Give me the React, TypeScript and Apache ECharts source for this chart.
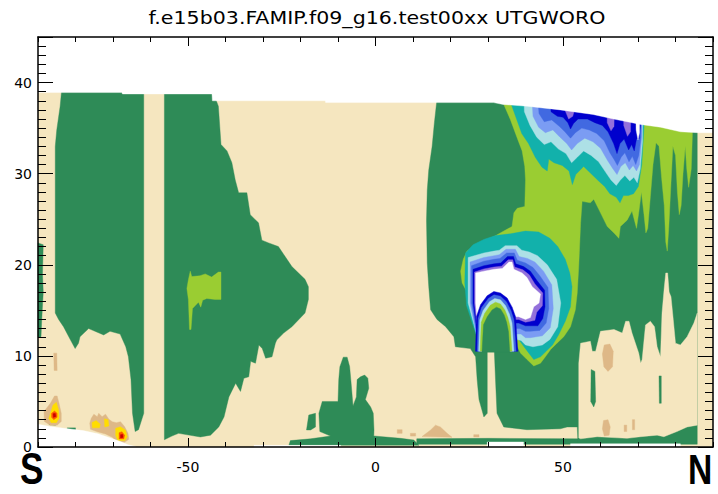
import { useEffect, useRef } from 'react';
import * as echarts from 'echarts';

type Pt = [number, number];

const TITLE = 'f.e15b03.FAMIP.f09_g16.test00xx UTGWORO';
const X_LABELS = [-50, 0, 50];
const Y_LABELS = [0, 10, 20, 30, 40];

const COLOR: Record<string, string> = {
  wheat: '#F5E6BF', tan: '#DEB887', green: '#2E8B57', yg: '#9ACD32', teal: '#12B1AB',
  lc: '#ADE0E6', cf: '#7B9CF3', rb: '#4169E1', nv: '#0000CD', pu: '#9370DB', wh: '#FFFFFF',
  yellow: '#FFDD00', orange: '#FF5A00', red: '#C80000', sky: '#FFFFFF',
};

// data top (model top) boundary, lat / km
const TOP: Pt[] = [[-90, 38.9], [-67.6, 38.9], [-67.5, 38.75], [-43.6, 38.75], [-43.5, 38.0], [-13.4, 38.0], [-13.3, 37.8], [31.5, 37.8], [34, 37.6], [40.5, 37.4], [49.3, 37.0], [58, 36.5], [63.5, 36.0], [70.7, 35.4], [76, 35.1], [81.3, 34.6], [85.9, 34.5], [90, 34.5]];

const BASE: Pt[] = [[-90, 0], [90, 0], [90, 40], [-90, 40]];

const GREEN_SH1: Pt[] = [[-83.5, 40], [-84.1, 37.4], [-85, 34.8], [-85.4, 33], [-85.4, 14.7], [-84.5, 14], [-83.2, 13.2], [-81.4, 11.8], [-80.1, 10.8], [-79.2, 11.4], [-78.8, 12.1], [-76.5, 13.0], [-72.5, 12.3], [-70.8, 12.7], [-68.1, 12.4], [-66.6, 11.0], [-65.9, 9.9], [-65.2, 7.4], [-64.8, 3.7], [-64.1, 1.7], [-63.2, 1.9], [-61.8, 3.7], [-61.8, 40]];
const GREEN_EDGE: Pt[] = [[-90, 22.4], [-88.6, 22.2], [-88.8, 19], [-88.6, 17], [-89, 14], [-89.2, 12.1], [-90, 12.0]];
const GREEN_DOTS_A: Pt[] = [[-87, 2.75], [-85.3, 2.65], [-85.3, 2.4], [-87, 2.45]];
const GREEN_DOTS_B: Pt[] = [[-82.2, 2.1], [-80, 2.1], [-80, 1.85], [-82.2, 1.85]];
const GREEN_SH2: Pt[] = [[-56.3, 40], [-56.3, 0.8], [-54.3, 1.2], [-52.5, 1.5], [-46.7, 1.1], [-44, 1.3], [-41.8, 2.2], [-40.4, 3.3], [-39.1, 5.5], [-37.3, 7.0], [-36, 6.1], [-35.1, 7.55], [-33.8, 7.7], [-33.3, 9.4], [-32, 9.2], [-31.1, 11.2], [-30.2, 10.8], [-29.3, 9.75], [-27.6, 9.9], [-26.7, 11.4], [-26.3, 11.76], [-24.5, 12.5], [-22.3, 13.2], [-18.8, 14.7], [-17.9, 16.2], [-17.9, 17.6], [-18.8, 18.4], [-22.3, 19.8], [-24.1, 20.9], [-25.9, 22.0], [-28.5, 22.4], [-30.3, 22.7], [-31.2, 24.6], [-33.4, 25.5], [-34.3, 27.9], [-36.5, 27.9], [-37.4, 29.3], [-38.3, 31.2], [-39.6, 32.5], [-41.2, 33.2], [-41.9, 37.4], [-43.2, 38.8], [-43.2, 40]];
const YG_SH: Pt[] = [[-49.4, 19.3], [-49.0, 18.7], [-46.8, 18.8], [-45.4, 19.0], [-43.7, 18.65], [-41.9, 19.2], [-41.2, 19.2], [-41.2, 16.2], [-42.8, 16.2], [-45.0, 16.3], [-46.1, 16.1], [-46.6, 15.35], [-47.2, 15.9], [-48.8, 15.2], [-49.2, 12.9], [-49.6, 12.9], [-49.9, 16.2], [-50.3, 17.4], [-49.9, 18.35]];
const GREEN_MID: Pt[] = [[-8.6, 9.86], [-7.56, 9.86], [-6.9, 8.83], [-6.5, 7.0], [-6.0, 4.5], [-5.1, 5.5], [-4.9, 7.4], [-4.0, 7.7], [-2.9, 7.9], [-2.05, 7.55], [-1.8, 6.45], [-2.7, 5.2], [-1.3, 4.4], [-0.6, 3.7], [-0.4, 1.87], [-0.45, 1.21], [6.7, 0.95], [10.2, 0.77], [11.6, 0.2], [-23.1, 0.2], [-22.7, 0.7], [-17.3, 0.9], [-12.0, 1.2], [-14.85, 1.7], [-15.1, 3.7], [-14.2, 5.0], [-10.0, 5.0], [-9.8, 7.4], [-9.5, 8.8]];
const GREEN_MID_B: Pt[] = [[-17.8, 3.5], [-16.0, 3.7], [-16.0, 2.2], [-17.3, 1.87], [-18.4, 1.87]];
const GREEN_BAND_NH: Pt[] = [[11, 0.3], [11, 0.9], [30, 0.95], [54, 0.9], [54, 0.3]];
const GREEN_NH: Pt[] = [[16.3, 40], [16.3, 37.8], [15.7, 35.6], [15.1, 33.0], [14.2, 30.4], [13.8, 28.2], [13.6, 24.9], [13.8, 20.2], [14.2, 17.6], [14.7, 15.06], [16.4, 14.0], [18.7, 13.2], [20.9, 12.1], [21.3, 11.0], [25.3, 10.8], [26.7, 9.9], [27.1, 7.4], [27.6, 5.2], [28.9, 3.3], [29.8, 3.7], [29.8, 11.0], [30.7, 11.8], [31.6, 11.4], [32.0, 7.4], [32.4, 3.7], [34.2, 2.2], [40.4, 1.9], [49.3, 2.0], [51.1, 2.2], [53.8, 2.2], [54, 0.3], [85.8, 0.3], [85.8, 40]];
const WHEAT_NH: Pt[] = [[54.2, 1.0], [54.2, 9.2], [54.7, 11.4], [57.3, 11.6], [57.8, 10.5], [58.7, 10.5], [60.0, 12.7], [63.6, 12.9], [65.8, 12.5], [66.7, 13.8], [67.6, 13.8], [68.4, 12.5], [70.2, 10.3], [70.7, 9.2], [71.1, 9.6], [72.0, 13.4], [73.3, 13.8], [74.4, 13.2], [75.1, 11.0], [76.0, 9.9], [76.4, 14.7], [77.0, 17.5], [77.4, 19.1], [77.9, 19.1], [78.3, 17.0], [78.8, 16.5], [79.4, 14.0], [80.0, 11.4], [81.3, 11.2], [83.1, 12.1], [84.9, 13.6], [85.8, 14.7], [85.8, 2.4], [83.1, 2.2], [80.4, 1.7], [76.9, 1.13], [75.1, 1.3], [70.7, 1.13], [67.1, 0.95], [59.1, 1.13], [54.7, 0.9]];
const GREEN_NH_S1: Pt[] = [[57.5, 8.5], [58.5, 8.3], [58.7, 5], [58.2, 4.4], [57.4, 5]];
const GREEN_NH_S2: Pt[] = [[75.6, 7.8], [76.2, 7.8], [76.2, 4.8], [75.7, 4.8]];

const TAN_NH1: Pt[] = [[61, 11.2], [62.5, 11.3], [63.4, 10.5], [63.2, 8.8], [62, 8.3], [60.9, 8.8], [60.5, 10.2]];
const TAN_NH2: Pt[] = [[60.8, 2.9], [62, 3.0], [62.6, 2.2], [62.3, 1.3], [61, 1.2], [60.5, 2.0]];
const TAN_NH3: Pt[] = [[66.3, 2.4], [67, 2.4], [67, 1.7], [66.3, 1.7]];
const TAN_NH4: Pt[] = [[68.5, 3.0], [69.1, 3.0], [69.1, 1.9], [68.5, 1.9]];
const TAN_EQ1: Pt[] = [[12.4, 1.14], [14.7, 1.87], [16.0, 2.4], [17.3, 2.2], [19.1, 1.5], [20.4, 1.07]];
const TAN_EQ2: Pt[] = [[5.8, 1.9], [7.1, 1.9], [7.1, 1.5], [5.8, 1.5]];
const TAN_EQ3: Pt[] = [[9.3, 1.5], [10.7, 1.5], [10.7, 1.2], [9.3, 1.2]];
const TAN_EQ4: Pt[] = [[26.2, 1.35], [27.6, 1.35], [27.6, 1.1], [26.2, 1.1]];
const TAN_SP_STREAK: Pt[] = [[-85.8, 10.3], [-85, 10.3], [-84.9, 8.4], [-85.7, 8.4]];
const TAN_SP1: Pt[] = [[-88.4, 3.9], [-86.7, 4.8], [-85.6, 5.6], [-84.9, 5.6], [-84.4, 4.8], [-83.8, 3.7], [-83.8, 2.8], [-84.9, 2.4], [-86.7, 2.4], [-88.3, 2.8]];
const YEL_SP1: Pt[] = [[-86.7, 3.7], [-86, 4.6], [-85.1, 4.9], [-84.5, 4.06], [-84.4, 3.15], [-85.1, 2.67], [-86.5, 2.67], [-87.1, 3.15]];
const ORG_SP1: Pt[] = [[-86.4, 3.7], [-85.6, 3.95], [-84.9, 3.7], [-84.9, 3.26], [-85.8, 3.0], [-86.4, 3.26]];
const RED_SP1: Pt[] = [[-86.0, 3.65], [-85.4, 3.7], [-85.2, 3.35], [-85.9, 3.25]];
const TAN_SP2: Pt[] = [[-76.2, 2.6], [-75.8, 3.15], [-75.1, 3.6], [-74.2, 3.33], [-73.8, 3.7], [-72.9, 3.33], [-72.0, 3.6], [-71.1, 3.04], [-70.2, 2.78], [-69.1, 2.67], [-68.0, 2.78], [-66.9, 2.23], [-66.0, 1.5], [-65.8, 0.84], [-66.9, 0.51], [-68.7, 0.51], [-70.2, 1.06], [-72.0, 1.43], [-74.2, 1.68], [-76, 1.94]];
const YEL_SP2A: Pt[] = [[-75.6, 2.7], [-74.5, 2.9], [-73.4, 2.5], [-73.6, 2.1], [-75.5, 2.1]];
const YEL_SP2B: Pt[] = [[-72.3, 3.1], [-71.3, 3.0], [-71.1, 2.3], [-72.2, 2.2]];
const YEL_SP2C: Pt[] = [[-69.3, 2.05], [-68.0, 2.23], [-66.7, 1.87], [-66.2, 1.13], [-66.8, 0.7], [-68.7, 0.7], [-69.3, 1.3]];
const ORG_SP2: Pt[] = [[-68.4, 1.57], [-67.6, 1.68], [-66.9, 1.3], [-67.1, 0.88], [-68.4, 0.88]];
const RED_SP2: Pt[] = [[-68.0, 1.35], [-67.4, 1.4], [-67.3, 1.05], [-68.0, 1.0]];

// NH blob + upper structure
const YG_NH: Pt[] = [[34.2, 40], [84.5, 40], [84.5, 34.2], [84.2, 30.5], [83.5, 28.5], [83.0, 30.5], [82.6, 33.0], [82.0, 30.0], [81.5, 26.5], [81.0, 25.5], [80.5, 28.0], [80.0, 32.0], [79.3, 33.0], [78.8, 29.0], [78.2, 24.0], [77.8, 21.5], [77.4, 22.5], [77.0, 26.5], [76.3, 29.5], [75.6, 33.0], [74.8, 33.4], [74.0, 31.0], [73.3, 27.5], [72.6, 24.0], [72.1, 23.5], [71.6, 25.5], [70.9, 28.0], [70.2, 25.7], [69.6, 24.0], [68.4, 25.9], [67.1, 24.9], [65.3, 24.2], [64.9, 22.9], [63.6, 23.5], [61.8, 24.2], [60.0, 25.7], [58.2, 27.2], [57.3, 26.8], [55.1, 26.96], [54.7, 24.6], [54.2, 19.8], [53.8, 16.9], [53.3, 15.06], [52.0, 13.2], [50.2, 12.1], [48.4, 11.4], [46.7, 10.7], [45.3, 9.9], [44.0, 9.2], [42.2, 8.9], [40.4, 9.6], [38.7, 10.3], [37.3, 11.4], [36.8, 11.8], [27.6, 11.0], [27.3, 11.8], [26.7, 14.7], [25.8, 16.5], [24.3, 17.1], [23.1, 18.0], [22.7, 19.3], [23.4, 20.6], [24.4, 21.5], [26.2, 22.0], [28.9, 22.6], [31.6, 23.1], [34.2, 23.7], [36.4, 24.2], [36.9, 25.7], [37.8, 26.2], [39.8, 26.4], [40.0, 29.3], [39.8, 30.8], [39.1, 32.5], [37.8, 33.9], [36.0, 35.9], [34.2, 37.6]];
const TEAL_UP: Pt[] = [[36.3, 40], [36.3, 37.5], [37.7, 35.9], [39.0, 34.4], [40.8, 33.3], [42.6, 31.8], [44.4, 30.7], [45.8, 30.3], [46.2, 31.6], [47.6, 31.2], [49.8, 30.9], [51.6, 30.3], [52.5, 28.8], [53.4, 29.9], [55.5, 30.8], [57.5, 30.0], [59.5, 29.2], [61.1, 28.6], [62.5, 27.8], [64.2, 27.4], [65.2, 26.8], [66.1, 27.6], [67.4, 27.6], [68.8, 27.8], [70.1, 28.6], [71.0, 31.0], [71.6, 35.1], [71.6, 40]];
const LC_UP: Pt[] = [[39.5, 40], [39.7, 36.8], [41.2, 35.3], [43, 34.0], [45, 33.2], [46.8, 33.5], [48.8, 32.7], [50.8, 32.2], [52.3, 31.2], [53.8, 31.8], [55.5, 32.5], [57.5, 32.0], [59.5, 31.3], [61.3, 30.2], [62.8, 29.3], [64.2, 28.7], [65.3, 29.3], [66.5, 29.8], [67.8, 29.2], [68.9, 29.6], [69.8, 29.0], [70.6, 30.5], [71.2, 33.5], [71.4, 40]];
const CF_UP: Pt[] = [[41.5, 40], [42, 36.3], [43.5, 35.1], [45.3, 34.5], [47.3, 34.8], [49.2, 34.0], [51, 33.3], [52.3, 32.6], [53.8, 33.3], [55.8, 33.9], [58, 33.5], [60, 32.8], [61.8, 31.5], [63.2, 30.6], [64.4, 29.9], [65.4, 30.8], [66.6, 31.2], [67.7, 30.4], [68.7, 30.9], [69.6, 30.3], [70.4, 31.0], [71, 34], [71.2, 40]];
const RB_UP: Pt[] = [[43, 40], [43.6, 36.6], [45, 35.7], [47, 35.9], [49, 35.2], [50.5, 34.6], [52, 33.9], [53.3, 34.5], [55, 35.0], [57, 34.8], [59, 34.4], [61, 33.6], [62.5, 32.3], [63.7, 31.5], [64.5, 30.9], [65.5, 31.8], [66.5, 32.3], [67.6, 31.3], [68.5, 31.9], [69.4, 31.0], [70.2, 32.0], [70.8, 34], [71, 40]];
const NV_UP: Pt[] = [[46.5, 40], [46.8, 36.8], [48.5, 36.3], [50, 36.2], [51.3, 35.6], [52, 34.9], [52.8, 35.5], [54, 36.0], [56.5, 36.0], [58.5, 35.6], [60.5, 35.3], [62, 34.6], [63.5, 33.3], [64.4, 32.2], [65.2, 33.3], [66.3, 33.8], [67.5, 32.6], [68.3, 33.2], [69.0, 32.5], [69.6, 33.8], [70.3, 33.8], [70.7, 35.5], [70.8, 40]];
const PU_UP1: Pt[] = [[50.5, 40], [50.6, 36.9], [51.5, 36.0], [52.6, 36.3], [53.2, 37.2], [53.2, 40]];
const PU_UP2: Pt[] = [[61.6, 40], [61.8, 35.6], [62.8, 34.7], [63.6, 35.2], [63.8, 40]];
const PU_UP3: Pt[] = [[66.0, 40], [66.2, 35.3], [67.2, 34.1], [68.0, 34.6], [68.2, 40]];
const WH_UP: Pt[] = [[69.3, 40], [69.5, 34.8], [70.0, 33.7], [70.4, 34.5], [70.4, 40]];

const TEAL_BLOB: Pt[] = [[23.8, 18], [24.0, 21.3], [26, 22.2], [29, 22.8], [32, 23.2], [36, 23.4], [40, 23.7], [43.5, 23.6], [46.5, 22.9], [48.6, 22.0], [50.6, 20.6], [51.8, 19.1], [52.4, 17.6], [52.0, 15.4], [50.6, 13.8], [48.8, 12.3], [47.2, 11.2], [45.5, 10.5], [44, 9.9], [42.2, 9.6], [40.9, 10.3], [39.6, 11.0], [38.2, 11.8], [37.3, 12.5], [27.5, 11.5], [24.3, 15.5]];
const LC_BLOB: Pt[] = [[24.7, 20.8], [28.9, 21.3], [31.6, 21.5], [33, 21.6], [34.6, 22.1], [37.7, 22.1], [39, 21.6], [41, 21.4], [43.2, 21.0], [45.8, 20.0], [48.3, 18.4], [49.4, 15.8], [48.6, 13.2], [46.5, 11.8], [44.5, 11.2], [42, 11.0], [40, 11.2], [38.8, 11.7], [37.7, 11.8], [27.2, 12], [24.7, 15.8]];
const CF_BLOB: Pt[] = [[25.2, 20.3], [28.9, 20.8], [31.6, 21.0], [33, 21.1], [34.8, 21.7], [37.3, 21.7], [38.3, 20.9], [40.5, 20.7], [42.5, 20.3], [44.8, 19.3], [47.0, 17.8], [47.4, 15.2], [46.6, 13.1], [44.5, 12.2], [41.3, 12.0], [40, 12.0], [38.8, 12.4], [37.5, 12.4], [27, 12.2], [25.2, 15.8]];
const RB_BLOB: Pt[] = [[25.6, 19.9], [28.9, 20.4], [31.6, 20.6], [33.2, 20.7], [35, 21.3], [37, 21.3], [37.8, 20.5], [40, 20.2], [42, 19.7], [43.8, 18.8], [46.0, 17.5], [46.2, 15.2], [45.5, 13.6], [43.8, 12.8], [41.3, 12.7], [40, 12.7], [38.5, 13.0], [37.2, 13.0], [27, 12.5], [25.6, 15.8]];
const NV_BLOB: Pt[] = [[26.0, 19.5], [28.9, 19.9], [31.6, 20.1], [33.4, 20.2], [35.2, 20.9], [36.8, 20.9], [37.4, 20.1], [39.5, 19.8], [41.3, 19.3], [43, 18.3], [45.1, 17.2], [45.2, 15.4], [44.6, 14.1], [43.3, 13.3], [41.3, 13.3], [40.0, 13.3], [38.2, 13.6], [36.9, 13.6], [27, 13], [26, 15.8]];
const PU_BLOB: Pt[] = [[26.4, 19.2], [28.9, 19.55], [31.6, 19.75], [33.6, 19.85], [35.4, 20.55], [36.6, 20.55], [37.1, 19.75], [39.3, 19.45], [41, 18.9], [42.5, 17.9], [44.6, 16.9], [44.5, 15.5], [43, 14.8], [42.5, 13.9], [41.3, 13.8], [40.0, 13.7], [38.2, 14.0], [36.9, 14.0], [27, 13.5], [26.4, 15.8]];
const WH_BLOB: Pt[] = [[26.7, 19.1], [28.9, 19.3], [31.6, 19.5], [33.8, 19.6], [35.6, 20.3], [36.4, 20.3], [36.9, 19.5], [39.1, 19.1], [40.4, 18.6], [41.8, 17.6], [44.0, 16.8], [43.6, 15.8], [42.2, 15.4], [41.3, 14.2], [40.0, 14.0], [38.2, 14.3], [36.9, 14.3], [36.4, 15.0], [33, 14], [28, 13.96], [27.1, 13.96], [26.7, 15.8]];

// arch under the blob (nested "mountains")
const ARCH_NV: Pt[] = [[26.66, 10.5], [26.93, 14.33], [28.0, 15.61], [29.77, 16.6], [31.55, 17.07], [33.33, 16.9], [35.11, 16.34], [36.44, 15.35], [37.33, 14.33], [37.95, 10.5]];
const ARCH_RB: Pt[] = [[27.1, 10.5], [27.4, 14.14], [28.3, 15.3], [30.1, 16.3], [31.6, 16.7], [33.33, 16.55], [34.9, 15.95], [36.1, 14.98], [36.9, 13.96], [37.5, 10.5]];
const ARCH_LC: Pt[] = [[27.5, 10.5], [27.8, 13.96], [28.7, 14.98], [30.4, 15.95], [31.8, 16.3], [33.33, 16.15], [34.7, 15.5], [35.7, 14.6], [36.4, 13.6], [36.9, 10.5]];
const ARCH_YG: Pt[] = [[27.9, 10.5], [28.2, 13.7], [29.1, 14.65], [30.6, 15.55], [32.0, 15.9], [33.33, 15.7], [34.5, 15.05], [35.3, 14.2], [35.9, 13.23], [36.4, 10.5]];
const ARCH_G: Pt[] = [[28.4, 10.4], [28.8, 13.41], [29.8, 14.3], [31.1, 15.05], [32.26, 15.35], [33.33, 15.15], [34.3, 14.5], [34.95, 13.7], [35.45, 12.68], [35.8, 10.4]];

const GROUND_SP: Pt[] = [[-90, 0], [-90, 2.5], [-86.7, 2.25], [-82, 2.0], [-78, 1.8], [-74, 1.45], [-70.5, 0.95], [-68, 0.6], [-66, 0.25], [-64, 0.05], [-64, 0]];
const GROUND_S1: Pt[] = [[-32.4, 0], [-32.4, 0.18], [-9.3, 0.18], [-9.3, 0]];
const GROUND_S2: Pt[] = [[29.8, 0], [29.8, 0.55], [39.5, 0.55], [39.5, 0]];
const GROUND_S3: Pt[] = [[52, 0], [52, 0.35], [81.3, 0.35], [81.3, 0]];

const SKY: Pt[] = [[-90, 45], [90, 45], ...TOP.slice().reverse()];

const LAYERS: { c: string; p: Pt[] }[] = [
  { c: 'wheat', p: BASE },
  { c: 'green', p: GREEN_SH1 }, { c: 'green', p: GREEN_EDGE }, { c: 'green', p: GREEN_DOTS_A }, { c: 'green', p: GREEN_DOTS_B },
  { c: 'green', p: GREEN_SH2 }, { c: 'yg', p: YG_SH },
  { c: 'green', p: GREEN_MID }, { c: 'green', p: GREEN_MID_B }, { c: 'green', p: GREEN_BAND_NH },
  { c: 'green', p: GREEN_NH }, { c: 'wheat', p: WHEAT_NH }, { c: 'green', p: GREEN_NH_S1 }, { c: 'green', p: GREEN_NH_S2 },
  { c: 'tan', p: TAN_NH1 }, { c: 'tan', p: TAN_NH2 }, { c: 'tan', p: TAN_NH3 }, { c: 'tan', p: TAN_NH4 },
  { c: 'tan', p: TAN_EQ1 }, { c: 'tan', p: TAN_EQ2 }, { c: 'tan', p: TAN_EQ3 }, { c: 'tan', p: TAN_EQ4 },
  { c: 'tan', p: TAN_SP_STREAK }, { c: 'tan', p: TAN_SP1 }, { c: 'yellow', p: YEL_SP1 }, { c: 'orange', p: ORG_SP1 }, { c: 'red', p: RED_SP1 },
  { c: 'tan', p: TAN_SP2 }, { c: 'yellow', p: YEL_SP2A }, { c: 'yellow', p: YEL_SP2B }, { c: 'yellow', p: YEL_SP2C }, { c: 'orange', p: ORG_SP2 }, { c: 'red', p: RED_SP2 },
  { c: 'yg', p: YG_NH },
  { c: 'teal', p: TEAL_UP }, { c: 'lc', p: LC_UP }, { c: 'cf', p: CF_UP }, { c: 'rb', p: RB_UP }, { c: 'nv', p: NV_UP },
  { c: 'pu', p: PU_UP1 }, { c: 'pu', p: PU_UP2 }, { c: 'pu', p: PU_UP3 }, { c: 'wh', p: WH_UP },
  { c: 'teal', p: TEAL_BLOB }, { c: 'lc', p: LC_BLOB }, { c: 'cf', p: CF_BLOB }, { c: 'rb', p: RB_BLOB }, { c: 'nv', p: NV_BLOB }, { c: 'pu', p: PU_BLOB }, { c: 'wh', p: WH_BLOB },
  { c: 'nv', p: ARCH_NV }, { c: 'rb', p: ARCH_RB }, { c: 'lc', p: ARCH_LC }, { c: 'yg', p: ARCH_YG }, { c: 'green', p: ARCH_G },
  { c: 'sky', p: GROUND_SP }, { c: 'sky', p: GROUND_S1 }, { c: 'sky', p: GROUND_S2 }, { c: 'sky', p: GROUND_S3 },
  { c: 'sky', p: SKY },
];

export default function App() {
  const ref = useRef<HTMLDivElement>(null);
  useEffect(() => {
    if (!ref.current) return;
    const chart = echarts.init(ref.current, null, { renderer: 'svg' });
    const font = 'DejaVu Sans';
    const xBase = { type: 'value', min: -90, max: 90, splitLine: { show: false }, z: 10 };
    const yBase = { type: 'value', min: 0, max: 45, splitLine: { show: false }, z: 10 };
    const line = { show: true, onZero: false, lineStyle: { color: '#000', width: 1.5 } };
    const noLine = { show: false, onZero: false };
    const tk = (len: number, extra: any = {}) => ({ show: true, inside: true, length: len, lineStyle: { color: '#000', width: 1 }, ...extra });
    chart.setOption({
      animation: false,
      backgroundColor: '#FFFFFF',
      grid: { left: 38, right: 5, top: 37, bottom: 47, containLabel: false },
      xAxis: [
        { ...xBase, position: 'bottom', interval: 10, axisLine: line, axisTick: tk(5),
          axisLabel: { show: true, color: '#000', fontFamily: font, fontSize: 14, margin: 13,
            formatter: (v: number) => (X_LABELS.indexOf(Math.round(v)) >= 0 ? String(Math.round(v)) : '') } },
        { ...xBase, position: 'bottom', axisLine: noLine, axisTick: tk(9, { customValues: X_LABELS }), axisLabel: { show: false } },
        { ...xBase, position: 'top', interval: 10, axisLine: line, axisTick: tk(5), axisLabel: { show: false } },
        { ...xBase, position: 'top', axisLine: noLine, axisTick: tk(9, { customValues: X_LABELS }), axisLabel: { show: false } },
      ],
      yAxis: [
        { ...yBase, position: 'left', interval: 1, axisLine: line, axisTick: tk(8), axisLabel: { show: false } },
        { ...yBase, position: 'left', interval: 10, axisLine: noLine, axisTick: tk(15),
          axisLabel: { show: true, color: '#000', fontFamily: font, fontSize: 14, margin: 6,
            formatter: (v: number) => (Y_LABELS.indexOf(Math.round(v)) >= 0 ? String(Math.round(v)) : '') } },
        { ...yBase, position: 'right', interval: 1, axisLine: line, axisTick: tk(8), axisLabel: { show: false } },
        { ...yBase, position: 'right', interval: 10, axisLine: noLine, axisTick: tk(15), axisLabel: { show: false } },
      ],
      graphic: [
        { type: 'text', x: 377, y: 18, scaleX: 1.21, z: 20,
          style: { text: TITLE, font: '17px "DejaVu Sans"', fill: '#000', textAlign: 'center', textVerticalAlign: 'middle' } },
        { type: 'text', left: 20, top: 447, z: 20, style: { text: 'S', font: 'bold 44px "Liberation Sans"', fill: '#000' }, scaleX: 0.8 },
        { type: 'text', left: 688, top: 449, z: 20, style: { text: 'N', font: 'bold 42px "Liberation Sans"', fill: '#000' }, scaleX: 0.8 },
      ],
      series: [
        {
          type: 'custom',
          xAxisIndex: 0,
          yAxisIndex: 0,
          silent: true,
          z: 1,
          data: LAYERS.map((_, i) => [0, 0, i]),
          renderItem: (params: any, api: any) => {
            const L = LAYERS[params.dataIndex];
            const pts = L.p.map((p) => api.coord(p));
            const col = COLOR[L.c];
            return { type: 'polygon', shape: { points: pts }, style: { fill: col, stroke: col, lineWidth: 0.4 } };
          },
        },
      ],
    });
    return () => chart.dispose();
  }, []);
  return <div ref={ref} style={{ width: 718, height: 494, position: 'absolute', left: 0, top: 0 }} />;
}
